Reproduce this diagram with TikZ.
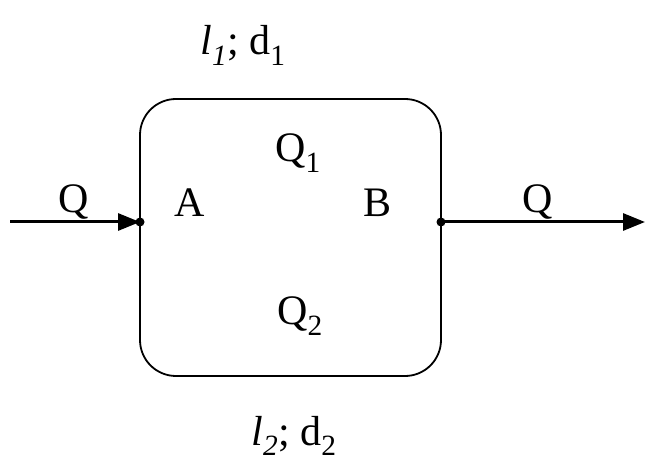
\documentclass[tikz,border=0pt]{standalone}
\usepackage{fontspec}
\setmainfont{Liberation Serif}
\usetikzlibrary{arrows.meta}
\definecolor{flowline}{HTML}{000000}
\definecolor{flowtext}{HTML}{000000}
\tikzset{
  loop box/.style={
    rectangle, rounded corners=36pt,
    draw=flowline, line width=1.8pt,
    minimum width=301pt, minimum height=277pt,
    inner sep=0pt
  },
  flow arrow/.style={
    draw=flowline, line width=3pt,
    -{Triangle[length=22pt,width=17pt]}
  },
  flow label/.style={
    text=flowtext, font=\fontsize{42}{50}\selectfont,
    anchor=base, inner sep=0pt
  },
  pipe label/.style={flow label, font=\fontsize{42}{50}\selectfont}
}

\begin{document}
\begin{tikzpicture}[x=1pt,y=-1pt]
  \useasboundingbox (0,0) rectangle (657,476);
  \node[loop box] (loop) at (290.5,237.5) {};

  \coordinate (inA) at (140,222);
  \coordinate (outB) at (441,222);
  \coordinate (src) at (10,222);
  \coordinate (sink) at (645,222);

  \draw[flow arrow] (src) -- (inA);
  \draw[flow arrow] (outB) -- (sink);
  \fill[flowline] (inA) circle (4.5pt);
  \fill[flowline] (outB) circle (4.5pt);

  \node[flow label] (qin) at (74,213) {Q};
  \node[flow label] (qout) at (538,213) {Q};
  \node[flow label] (nodeA) at (190,217) {A};
  \node[flow label] (nodeB) at (378,217) {B};
  \node[flow label] (q1) at (298,162) {Q\textsubscript{1}};
  \node[flow label] (q2) at (300,325) {Q\textsubscript{2}};
  \node[pipe label] (pipe1) at (243,55) {\textit{l}\textsubscript{\textit{1}}; d\textsubscript{1}};
  \node[pipe label] (pipe2) at (294,445) {\textit{l}\textsubscript{\textit{2}}; d\textsubscript{2}};
\end{tikzpicture}
\end{document}
